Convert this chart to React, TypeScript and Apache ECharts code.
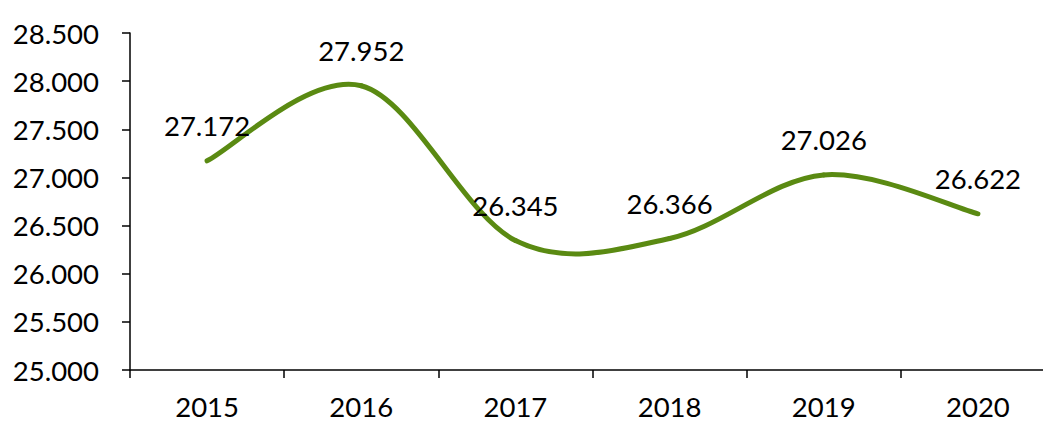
import React, { useEffect, useRef } from "react";
import * as echarts from "echarts";

const years = ["2015", "2016", "2017", "2018", "2019", "2020"];
const values = [27172, 27952, 26345, 26366, 27026, 26622];
const yMin = 25000;
const yMax = 28500;
const yStep = 500;

const fmt = (v: number) => {
  const s = String(Math.round(v));
  return s.slice(0, s.length - 3) + "." + s.slice(s.length - 3);
};

export default function App() {
  const ref = useRef<HTMLDivElement>(null);
  useEffect(() => {
    if (!ref.current) return;
    const chart = echarts.init(ref.current, undefined, { renderer: "svg" });
    const font = "Lato";
    const fs = 27.5;
    const n = values.length;
    chart.setOption({
      animation: false,
      grid: { left: 130, top: 33, bottom: 53, right: 5 },
      xAxis: {
        type: "category",
        data: years,
        boundaryGap: true,
        axisLine: { lineStyle: { color: "#000", width: 1.5 } },
        axisTick: { show: true, length: 8, lineStyle: { color: "#000", width: 1.5 } },
        axisLabel: { color: "#000", fontSize: fs, fontFamily: font, margin: 22 },
      },
      yAxis: {
        type: "value",
        min: yMin,
        max: yMax,
        interval: yStep,
        axisLine: { show: true, lineStyle: { color: "#000", width: 1.5 } },
        axisTick: { show: true, length: 8, lineStyle: { color: "#000", width: 1.5 } },
        splitLine: { show: false },
        axisLabel: {
          color: "#000",
          fontSize: fs,
          fontFamily: font,
          margin: 31,
          formatter: (v: number) => fmt(v),
        },
      },
      series: [
        {
          type: "custom",
          data: values.map((v, i) => [i, v]),
          encode: { x: 0, y: 1 },
          clip: false,
          silent: true,
          renderItem: (params: any, api: any) => {
            const i = params.dataIndex;
            if (i >= n - 1) return { type: "group", children: [] };
            const p = (k: number) => {
              const kk = Math.max(0, Math.min(n - 1, k));
              return api.coord([kk, values[kk]]);
            };
            const p0 = p(i - 1);
            const p1 = p(i);
            const p2 = p(i + 1);
            const p3 = p(i + 2);
            const c1 = [p1[0] + (p2[0] - p0[0]) / 6, p1[1] + (p2[1] - p0[1]) / 6];
            const c2 = [p2[0] - (p3[0] - p1[0]) / 6, p2[1] - (p3[1] - p1[1]) / 6];
            return {
              type: "bezierCurve",
              shape: {
                x1: p1[0],
                y1: p1[1],
                cpx1: c1[0],
                cpy1: c1[1],
                cpx2: c2[0],
                cpy2: c2[1],
                x2: p2[0],
                y2: p2[1],
              },
              style: { stroke: "#5A8A12", lineWidth: 5, fill: null, lineCap: "round" },
            };
          },
          z: 2,
        },
        {
          type: "line",
          data: values,
          symbol: "circle",
          symbolSize: 2,
          itemStyle: { color: "transparent" },
          lineStyle: { opacity: 0 },
          silent: true,
          z: 3,
          label: {
            show: true,
            position: "top",
            distance: 20,
            color: "#000",
            fontSize: fs,
            fontFamily: font,
            formatter: (p: any) => fmt(p.value),
          },
        },
      ],
    });
    return () => chart.dispose();
  }, []);
  return (
    <div
      style={{
        position: "fixed",
        left: 0,
        top: 0,
        width: 1043,
        height: 423,
        overflow: "hidden",
        background: "#fff",
      }}
    >
      <div ref={ref} style={{ width: 1060, height: 423 }} />
    </div>
  );
}
